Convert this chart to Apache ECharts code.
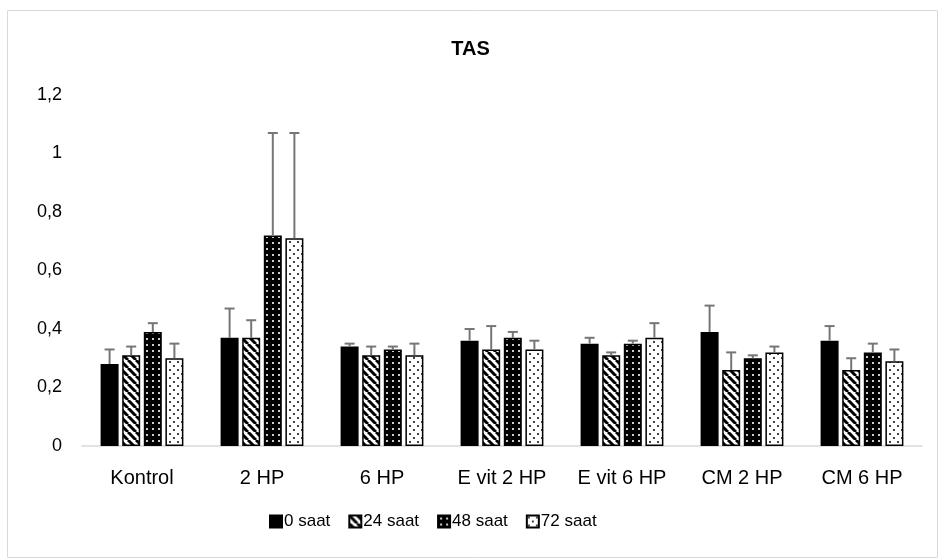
<!DOCTYPE html>
<html>
<head>
<meta charset="utf-8">
<script src="https://cdn.jsdelivr.net/npm/echarts@6/dist/echarts.min.js"></script>
<style>
html,body{margin:0;padding:0;background:#fff;}
#chart{width:941px;height:558px;}
</style>
</head>
<body>
<div id="chart"></div>
<script>
// ---- data ----
var categories = ['Kontrol', '2 HP', '6 HP', 'E vit 2 HP', 'E vit 6 HP', 'CM 2 HP', 'CM 6 HP'];
var seriesNames = ['0 saat', '24 saat', '48 saat', '72 saat'];
var mean0h  = [0.28, 0.37, 0.34, 0.36, 0.35, 0.39, 0.36];
var mean24h = [0.31, 0.37, 0.31, 0.33, 0.31, 0.26, 0.26];
var mean48h = [0.39, 0.72, 0.33, 0.37, 0.35, 0.30, 0.32];
var mean72h = [0.30, 0.71, 0.31, 0.33, 0.37, 0.32, 0.29];
var errTop0h  = [0.33, 0.47, 0.35, 0.40, 0.37, 0.48, 0.41];
var errTop24h = [0.34, 0.43, 0.34, 0.41, 0.32, 0.32, 0.30];
var errTop48h = [0.42, 1.07, 0.34, 0.39, 0.36, 0.31, 0.35];
var errTop72h = [0.35, 1.07, 0.35, 0.36, 0.42, 0.34, 0.33];
var yTickLabels = ['0', '0,2', '0,4', '0,6', '0,8', '1', '1,2'];
var titleText = 'TAS';

var means = [mean0h, mean24h, mean48h, mean72h];
var errTops = [errTop0h, errTop24h, errTop48h, errTop72h];

// ---- patterns ----
function mk(w, h, draw) {
  var c = document.createElement('canvas');
  c.width = w; c.height = h;
  var g = c.getContext('2d');
  draw(g, w, h);
  return c;
}
var solidBlack = '#000000';
var stripe = mk(8, 8, function (g, w, h) {
  g.fillStyle = '#fff'; g.fillRect(0, 0, w, h);
  g.strokeStyle = '#000'; g.lineWidth = 3;
  for (var k = -1; k <= 1; k++) {
    g.beginPath();
    g.moveTo(k * w, 0); g.lineTo(k * w + w, h);
    g.stroke();
  }
});
var darkDots = mk(6, 6, function (g, w, h) {
  g.fillStyle = '#000'; g.fillRect(0, 0, w, h);
  g.fillStyle = '#bbb'; g.fillRect(2, 2, 2, 2);
  g.fillStyle = '#fff'; g.fillRect(2.5, 2.5, 1, 1);
});
var lightDots = mk(8, 8, function (g, w, h) {
  g.fillStyle = '#fff'; g.fillRect(0, 0, w, h);
  g.fillStyle = '#444';
  g.fillRect(1, 1, 2, 2);
  g.fillRect(5, 5, 2, 2);
});
var fills = [
  solidBlack,
  { image: stripe, repeat: 'repeat' },
  { image: darkDots, repeat: 'repeat' },
  { image: lightDots, repeat: 'repeat' }
];

var BAR_W = 18, GAP_PCT = 0.2;
var gapPx = BAR_W * GAP_PCT;
var groupW = 4 * BAR_W + 3 * gapPx;

var series = [];
seriesNames.forEach(function (name, i) {
  series.push({
    name: name,
    type: 'bar',
    barWidth: BAR_W,
    barGap: (GAP_PCT * 100) + '%',
    data: means[i],
    itemStyle: { color: fills[i], borderColor: '#000', borderWidth: 1.5 },
    emphasis: { disabled: true },
    z: 2
  });
});
seriesNames.forEach(function (name, i) {
  var offset = -groupW / 2 + BAR_W / 2 + i * (BAR_W + gapPx);
  series.push({
    name: name + ' err',
    type: 'custom',
    z: 3,
    data: categories.map(function (c, k) { return [k, means[i][k], errTops[i][k]]; }),
    renderItem: function (params, api) {
      var k = api.value(0);
      var p0 = api.coord([k, api.value(1)]);
      var p1 = api.coord([k, api.value(2)]);
      var x = p0[0] + offset;
      var cap = 5;
      var st = { stroke: '#767676', lineWidth: 2 };
      return {
        type: 'group',
        children: [
          { type: 'line', shape: { x1: x, y1: p0[1], x2: x, y2: p1[1] }, style: st },
          { type: 'line', shape: { x1: x - cap, y1: p1[1], x2: x + cap, y2: p1[1] }, style: st }
        ]
      };
    }
  });
});

var FONT = 'Liberation Sans, Arial, sans-serif';
var chart = echarts.init(document.getElementById('chart'), null, { renderer: 'canvas' });
chart.setOption({
  animation: false,
  backgroundColor: '#fff',
  textStyle: { fontFamily: FONT },
  graphic: [{
    type: 'rect', left: 5, top: 8, shape: { width: 930, height: 547 },
    style: { fill: 'none', stroke: '#d9d9d9', lineWidth: 1 }, silent: true, z: -1
  }],
  title: {
    text: titleText, left: 'center', top: 34,
    textStyle: { fontSize: 20, fontWeight: 'bold', color: '#000', fontFamily: FONT }
  },
  legend: {
    data: seriesNames,
    bottom: 23,
    left: 264,
    itemWidth: 12, itemHeight: 12,
    itemGap: 18,
    icon: 'rect',
    textStyle: { fontSize: 17, color: '#000', padding: [0, 0, 0, -3], fontFamily: FONT }
  },
  grid: { left: 82, right: 19, top: 95, bottom: 112, containLabel: false },
  xAxis: {
    type: 'category',
    data: categories,
    axisLine: { lineStyle: { color: '#d9d9d9', width: 1.5 } },
    axisTick: { show: false },
    axisLabel: { fontSize: 20, color: '#000', margin: 22, fontFamily: FONT }
  },
  yAxis: {
    type: 'value',
    min: 0, max: 1.2, interval: 0.2,
    axisLine: { show: false },
    axisTick: { show: false },
    splitLine: { show: false },
    axisLabel: {
      fontSize: 18, color: '#000', margin: 20, fontFamily: FONT,
      formatter: function (v) { return yTickLabels[Math.round(v / 0.2)]; }
    }
  },
  series: series
});
</script>
</body>
</html>
